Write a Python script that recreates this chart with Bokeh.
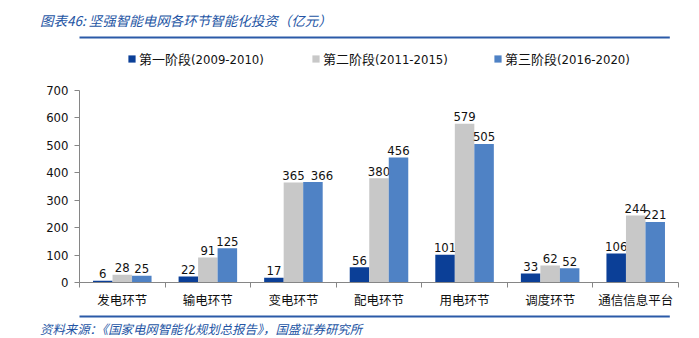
from bokeh.plotting import figure
from bokeh.layouts import column
from bokeh.models import ColumnDataSource, Range1d, FixedTicker, Legend, LegendItem, Div
from bokeh.transform import dodge
from bokeh.core.properties import value
from bokeh.embed import file_html
from bokeh.resources import INLINE

categories = ["发电环节", "输电环节", "变电环节", "配电环节", "用电环节", "调度环节", "通信信息平台"]
stage1 = [6, 22, 17, 56, 101, 33, 106]
stage2 = [28, 91, 365, 380, 579, 62, 244]
stage3 = [25, 125, 366, 456, 505, 52, 221]
series_names = ["第一阶段(2009-2010)", "第二阶段(2011-2015)", "第三阶段(2016-2020)"]
y_ticks = [0, 100, 200, 300, 400, 500, 600, 700]
title_text = "图表46:  坚强智能电网各环节智能化投资（亿元）"
source_text = "资料来源：《国家电网智能化规划总报告》，国盛证券研究所"

colors = ["#0B3F97", "#C8C8C8", "#4F82C5"]
FONT = "DejaVu Sans Condensed, DejaVu Sans, Noto Sans CJK SC"
CAT_FONT = "DejaVu Sans, Noto Sans CJK SC"
CJK = "Noto Sans CJK SC"
BLUE_TEXT = "#2455A4"
RULE = "#2B5AA8"
W = 699

TITLE_H = 34            # title block 0..34
RULE1_H = 12            # rule strip 34..46 (rule centred at 37)
MAIN_TOP = TITLE_H + RULE1_H
MAIN_BOTTOM = 310
RULE2_H = 12            # rule strip 310..322 (rule centred at 316)
SRC_H = 338 - MAIN_BOTTOM - RULE2_H
MAIN_H = MAIN_BOTTOM - MAIN_TOP

title_div = Div(width=W, height=TITLE_H, margin=0,
                text=(f'<div style="padding:11px 0 0 40px;line-height:18px;font-size:13.5px;'
                      f'font-family:\'{CJK}\';font-style:italic;color:{BLUE_TEXT};white-space:nowrap;">'
                      f'{title_text}</div>'))
src_div = Div(width=W, height=SRC_H, margin=0,
              text=(f'<div style="padding:0 0 0 40px;line-height:10px;font-size:12.4px;'
                    f'font-family:\'{CJK}\';font-style:italic;color:{BLUE_TEXT};white-space:nowrap;">'
                    f'{source_text}</div>'))


def rule_fig(h, y_rule, top):
    f = figure(width=W, height=h, output_backend="svg", toolbar_location=None,
               x_range=Range1d(79, W), y_range=Range1d(top + h, top),
               x_axis_type=None, y_axis_type=None,
               min_border=0, min_border_left=0, min_border_right=0,
               min_border_top=0, min_border_bottom=0)
    f.background_fill_color = "white"
    f.border_fill_color = "white"
    f.outline_line_color = None
    f.grid.visible = False
    f.segment(x0=[31], y0=[y_rule], x1=[690], y1=[y_rule], line_color=RULE, line_width=2)
    return f


rule_top = rule_fig(RULE1_H, 37, TITLE_H)
rule_bottom = rule_fig(RULE2_H, 316, MAIN_BOTTOM)

# ---------- main chart ----------
xc = [i + 0.5 for i in range(len(categories))]
src = ColumnDataSource(dict(x=xc, s1=stage1, s2=stage2, s3=stage3,
                            l1=[str(v) for v in stage1],
                            l2=[str(v) for v in stage2],
                            l3=[str(v) for v in stage3]))

frame_top = MAIN_TOP + 4    # canvas px of frame top
axis_zero = 282             # canvas px of y = 0
axis_top = 90               # canvas px of y = 700
y_end = 700 * (axis_zero - frame_top) / (axis_zero - axis_top)

p = figure(width=W, height=MAIN_H, output_backend="svg", toolbar_location=None,
           x_range=Range1d(0, len(categories)), y_range=Range1d(0, y_end),
           min_border_left=79, min_border_right=21,
           min_border_top=frame_top - MAIN_TOP, min_border_bottom=MAIN_BOTTOM - axis_zero)
p.outline_line_color = None
p.grid.grid_line_color = None
p.background_fill_color = "white"
p.border_fill_color = "white"

bw = 0.228
offs = [-bw, 0.0, bw]
label_nudge = {("l3", 2): 9}   # Excel nudged one label to avoid overlap
renderers = []
for key, lab, off, col in zip(["s1", "s2", "s3"], ["l1", "l2", "l3"], offs, colors):
    r = p.vbar(x=dodge("x", off), top=key, width=bw, source=src, fill_color=col, line_color=None)
    renderers.append(r)
    xo = [label_nudge.get((lab, i), 0) for i in range(len(categories))]
    s = ColumnDataSource(dict(x=xc, y=src.data[key], t=src.data[lab], xo=xo))
    p.text(x=dodge("x", off), y="y", text="t", x_offset="xo", source=s, text_align="center",
           text_baseline="alphabetic", y_offset=-7, text_font=value(FONT),
           text_font_size="13px", text_color="#111111")

p.yaxis.ticker = FixedTicker(ticks=y_ticks)
p.yaxis.bounds = (0, 700)
p.yaxis.axis_line_color = "#868686"
p.yaxis.major_tick_line_color = "#868686"
p.yaxis.major_tick_in = 0
p.yaxis.major_tick_out = 5
p.yaxis.minor_tick_line_color = None
p.yaxis.major_label_text_font = FONT
p.yaxis.major_label_text_font_size = "13px"
p.yaxis.major_label_text_color = "#111111"
p.yaxis.major_label_standoff = 6

p.xaxis.ticker = FixedTicker(ticks=xc, minor_ticks=list(range(len(categories) + 1)))
p.xaxis.major_label_overrides = {x: c for x, c in zip(xc, categories)}
p.xaxis.axis_line_color = "#868686"
p.xaxis.major_tick_line_color = None
p.xaxis.minor_tick_line_color = "#868686"
p.xaxis.minor_tick_in = 0
p.xaxis.minor_tick_out = 5
p.xaxis.major_label_text_font = CAT_FONT
p.xaxis.major_label_text_font_size = "12.5px"
p.xaxis.major_label_text_color = "#111111"
p.xaxis.major_label_standoff = 4
p.xaxis.axis_label = None
p.xaxis.axis_label_standoff = 0

legend_left = [127, 311, 493]   # canvas px of each legend square
legend_mid = 60                 # canvas px of legend row centre
for r, name, lx in zip(renderers, series_names, legend_left):
    leg = Legend(items=[LegendItem(label=name, renderers=[r])],
                 location=(lx - 79, axis_zero - legend_mid - 8), orientation="horizontal",
                 background_fill_alpha=0, border_line_color=None,
                 label_text_font=FONT, label_text_font_size="13px", label_text_color="#111111",
                 glyph_width=9, glyph_height=9, label_standoff=3, padding=0, margin=0,
                 label_height=12, spacing=0)
    p.add_layout(leg, "center")

layout = column(title_div, rule_top, p, rule_bottom, src_div, spacing=0)
open("out.html", "w").write(file_html(layout, INLINE))
